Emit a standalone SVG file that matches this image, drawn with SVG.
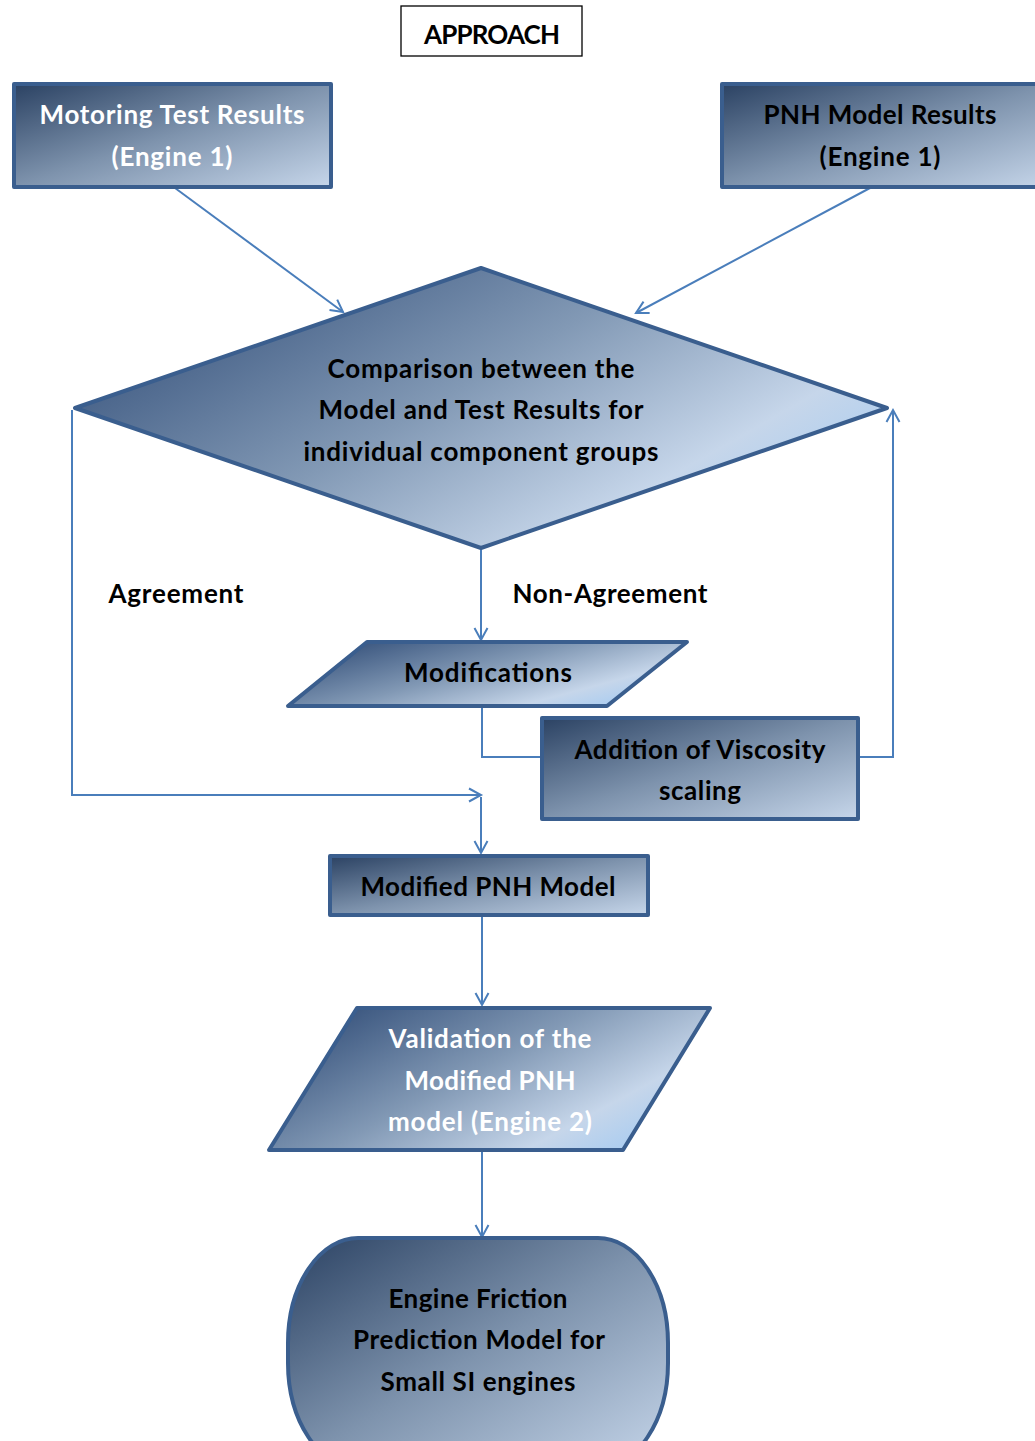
<svg xmlns="http://www.w3.org/2000/svg" width="1035" height="1441" viewBox="0 0 1035 1441">
<defs>
<linearGradient id="gRect" x1="0" y1="0" x2="1" y2="1">
<stop offset="0" stop-color="#2b4263"/>
<stop offset="0.5" stop-color="#7e93ad"/>
<stop offset="1" stop-color="#c6d6ea"/>
</linearGradient>
<linearGradient id="gShine" x1="0" y1="0.2" x2="1" y2="0.8">
<stop offset="0" stop-color="#34507a"/>
<stop offset="0.45" stop-color="#8299b5"/>
<stop offset="0.78" stop-color="#c6d6ea"/>
<stop offset="1" stop-color="#a3caf2"/>
</linearGradient>
<marker id="arr" markerWidth="16" markerHeight="16" refX="13" refY="8" orient="auto" markerUnits="userSpaceOnUse">
<path d="M1,1.5 L13,8 L1,14.5" fill="none" stroke="#4a7ebb" stroke-width="2"/>
</marker>
</defs>
<style>
.box{stroke:#3a5e8e;stroke-width:4;stroke-linejoin:round}
.t{font-family:Lato,"Liberation Sans",sans-serif;font-weight:bold;font-size:26px;text-anchor:middle}
.w{fill:#ffffff}
.k{fill:#000000}
.c{fill:none;stroke:#4a7ebb;stroke-width:2}
</style>
<g id="title">
<rect x="401" y="6" width="181" height="50" fill="#fff" stroke="#000" stroke-width="1.3"/>
<text class="t k" x="492" y="44" textLength="136" lengthAdjust="spacing">APPROACH</text>
</g>
<g id="connectors">
<line class="c" x1="175" y1="188" x2="343" y2="312" marker-end="url(#arr)"/>
<line class="c" x1="870" y1="188" x2="636" y2="313" marker-end="url(#arr)"/>
<line class="c" x1="481" y1="550" x2="481" y2="640" marker-end="url(#arr)"/>
<polyline class="c" points="72,410 72,795 481,795" marker-end="url(#arr)"/>
<line class="c" x1="481" y1="797" x2="481" y2="853" marker-end="url(#arr)"/>
<polyline class="c" points="482,708 482,757 541,757"/>
<polyline class="c" points="859,757 893,757 893,410" marker-end="url(#arr)"/>
<line class="c" x1="482" y1="917" x2="482" y2="1005" marker-end="url(#arr)"/>
<line class="c" x1="482" y1="1151" x2="482" y2="1237" marker-end="url(#arr)"/>
</g>
<g id="motoring">
<rect class="box" x="14" y="84" width="317" height="103" fill="url(#gRect)"/>
<text class="t w" x="172" y="124" textLength="265" lengthAdjust="spacing">Motoring Test Results</text>
<text class="t w" x="172" y="166" textLength="121" lengthAdjust="spacing">(Engine 1)</text>
</g>
<g id="pnh">
<rect class="box" x="722" y="84" width="330" height="103" fill="url(#gRect)"/>
<text class="t k" x="880" y="124" textLength="233" lengthAdjust="spacing">PNH Model Results</text>
<text class="t k" x="880" y="166" textLength="121" lengthAdjust="spacing">(Engine 1)</text>
</g>
<g id="comparison">
<polygon class="box" points="481,268 887,408 481,548 75,408" fill="url(#gShine)"/>
<text class="t k" x="481" y="378" textLength="307" lengthAdjust="spacing">Comparison between the</text>
<text class="t k" x="481" y="419" textLength="325" lengthAdjust="spacing">Model and Test Results for</text>
<text class="t k" x="481" y="461" textLength="355" lengthAdjust="spacing">individual component groups</text>
</g>
<g id="labels">
<text class="t k" x="176" y="603" textLength="135" lengthAdjust="spacing">Agreement</text>
<text class="t k" x="610" y="603" textLength="195" lengthAdjust="spacing">Non-Agreement</text>
</g>
<g id="modifications">
<polygon class="box" points="367,642 687,642 607,706 288,706" fill="url(#gShine)"/>
<text class="t k" x="488" y="682" textLength="168" lengthAdjust="spacing">Modifications</text>
</g>
<g id="viscosity">
<rect class="box" x="542" y="718" width="316" height="101" fill="url(#gRect)"/>
<text class="t k" x="700" y="759" textLength="251" lengthAdjust="spacing">Addition of Viscosity</text>
<text class="t k" x="700" y="800" textLength="82" lengthAdjust="spacing">scaling</text>
</g>
<g id="modified">
<rect class="box" x="330" y="856" width="318" height="59" fill="url(#gRect)"/>
<text class="t k" x="488" y="896" textLength="255" lengthAdjust="spacing">Modified PNH Model</text>
</g>
<g id="validation">
<polygon class="box" points="357,1008 710,1008 623,1150 269,1150" fill="url(#gShine)"/>
<text class="t w" x="490" y="1048" textLength="203" lengthAdjust="spacing">Validation of the</text>
<text class="t w" x="490" y="1090" textLength="171" lengthAdjust="spacing">Modified PNH</text>
<text class="t w" x="490" y="1131" textLength="204" lengthAdjust="spacing">model (Engine 2)</text>
</g>
<g id="terminal">
<rect class="box" x="288" y="1238" width="380" height="230" rx="70" ry="105" fill="url(#gRect)"/>
<text class="t k" x="478" y="1308" textLength="179" lengthAdjust="spacing">Engine Friction</text>
<text class="t k" x="479" y="1349" textLength="252" lengthAdjust="spacing">Prediction Model for</text>
<text class="t k" x="478" y="1391" textLength="195" lengthAdjust="spacing">Small SI engines</text>
</g>
</svg>
